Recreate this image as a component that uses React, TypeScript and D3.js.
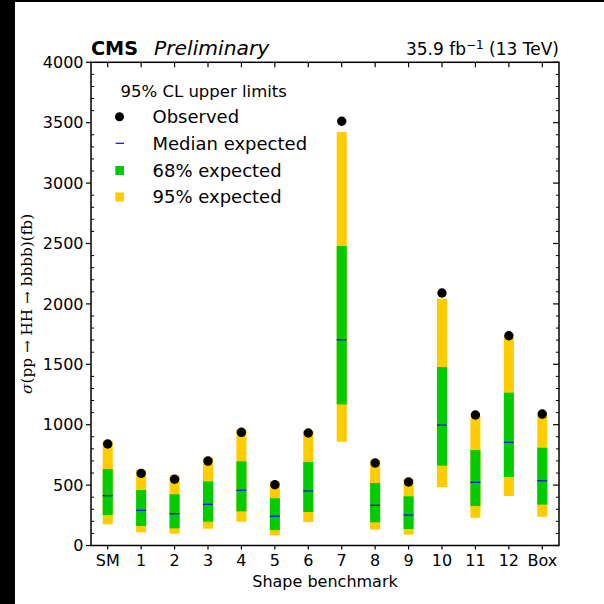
import React from "react";
import * as d3 from "d3";

const categories = ["SM", "1", "2", "3", "4", "5", "6", "7", "8", "9", "10", "11", "12", "Box"];
const observed = [840, 597, 548, 699, 937, 503, 931, 3512, 683, 526, 2090, 1080, 1736, 1088];
const expMedian = [412, 291, 263, 341, 457, 242, 451, 1703, 333, 252, 997, 523, 854, 536];
const exp68Low = [252, 161, 142, 197, 283, 128, 277, 1168, 192, 137, 661, 327, 567, 338];
const exp68High = [633, 459, 424, 531, 697, 391, 691, 2479, 517, 407, 1477, 790, 1265, 809];
const exp95Low = [175, 109, 98, 139, 197, 84, 194, 859, 131, 90, 482, 230, 410, 238];
const exp95High = [867, 625, 581, 727, 962, 534, 950, 3422, 708, 553, 2043, 1066, 1723, 1077];
const yMajorTicks = [0, 500, 1000, 1500, 2000, 2500, 3000, 3500, 4000];

const W = 604, H = 604;
const L = 91, R = 559, T = 62.3, B = 545.5;
const GREEN = "#00cc00", YELLOW = "#ffcc00", BLUE = "#0000ff";
const FONT = "'DejaVu Sans', sans-serif";

export default function App() {
  const x = d3.scaleLinear().domain([-0.5, 13.5]).range([L, R]);
  const y = d3.scaleLinear().domain([0, 4000]).range([B, T]);
  const bw = x(0.15) - x(0);
  const minor = d3.range(0, 4001, 100).filter((v) => v % 500 !== 0);

  return (
    <svg width={W} height={H} style={{ position: "absolute", left: 0, top: 0, background: "#fff" }} fontFamily={FONT}>
      <rect x={0} y={0} width={W} height={H} fill="#fff" />
      <rect x={0} y={0} width={15} height={H} fill="#000" />
      <rect x={0} y={0} width={W} height={2} fill="#000" />

      {/* bands */}
      {categories.map((c, i) => (
        <g key={c}>
          <rect x={x(i) - bw} width={2 * bw} y={y(exp95High[i])} height={y(exp95Low[i]) - y(exp95High[i])} fill={YELLOW} />
          <rect x={x(i) - bw} width={2 * bw} y={y(exp68High[i])} height={y(exp68Low[i]) - y(exp68High[i])} fill={GREEN} />
          <line x1={x(i) - bw} x2={x(i) + bw} y1={y(expMedian[i])} y2={y(expMedian[i])} stroke={BLUE} strokeWidth={1.2} />
          <circle cx={x(i)} cy={y(observed[i])} r={4.7} fill="#000" />
        </g>
      ))}

      {/* frame */}
      <rect x={L} y={T} width={R - L} height={B - T} fill="none" stroke="#000" strokeWidth={1.5} />

      {/* y ticks */}
      {yMajorTicks.map((v) => (
        <g key={"ym" + v}>
          <line x1={L - 5} x2={L} y1={y(v)} y2={y(v)} stroke="#000" strokeWidth={1.2} />
          <line x1={R - 6} x2={R} y1={y(v)} y2={y(v)} stroke="#000" strokeWidth={1.2} />
          <text x={83.5} y={y(v)} dy="0.36em" textAnchor="end" fontSize={16}>{v}</text>
        </g>
      ))}
      {minor.map((v) => (
        <g key={"yn" + v}>
          <line x1={L} x2={L + 3} y1={y(v)} y2={y(v)} stroke="#000" strokeWidth={1} />
          <line x1={R - 3} x2={R} y1={y(v)} y2={y(v)} stroke="#000" strokeWidth={1} />
        </g>
      ))}

      {/* x ticks */}
      {categories.map((c, i) => (
        <g key={"xt" + c}>
          <line x1={x(i)} x2={x(i)} y1={B} y2={B + 4} stroke="#000" strokeWidth={1.2} />
          <line x1={x(i)} x2={x(i)} y1={T} y2={T + 5} stroke="#000" strokeWidth={1.2} />
          <text x={x(i)} y={565.5} textAnchor="middle" fontSize={16}>{c}</text>
        </g>
      ))}

      {/* axis labels */}
      <text x={(L + R) / 2} y={587} textAnchor="middle" fontSize={16}>Shape benchmark</text>
      <text
        transform={`translate(32, ${(T + B) / 2}) rotate(-90)`}
        textAnchor="middle"
        fontSize={15}
        fontFamily="'DejaVu Serif', 'Liberation Serif', serif"
        textLength={180}
        lengthAdjust="spacingAndGlyphs"
      >
        <tspan fontStyle="italic">σ</tspan>(pp → HH → bbbb)(fb)
      </text>

      {/* header */}
      <text x={L} y={55} fontSize={19.2} fontWeight="bold">CMS</text>
      <text x={154} y={55} fontSize={20.3} fontStyle="italic">Preliminary</text>
      <text x={R} y={55} textAnchor="end" fontSize={17}>
        35.9 fb<tspan dy={-6.5} fontSize={12}>−1</tspan><tspan dy={6.5}> (13 TeV)</tspan>
      </text>

      {/* legend */}
      <text x={120.5} y={96.5} fontSize={16.5}>95% CL upper limits</text>
      <circle cx={119.5} cy={116.7} r={4.5} fill="#000" />
      <text x={152.5} y={123} fontSize={18}>Observed</text>
      <line x1={115.7} x2={124} y1={143.3} y2={143.3} stroke={BLUE} strokeWidth={1.2} />
      <text x={152.5} y={150} fontSize={18}>Median expected</text>
      <rect x={115.3} y={166} width={8.7} height={9} fill={GREEN} />
      <text x={152.5} y={176.5} fontSize={18}>68% expected</text>
      <rect x={115.3} y={192.5} width={8.7} height={9} fill={YELLOW} />
      <text x={152.5} y={203} fontSize={18}>95% expected</text>
    </svg>
  );
}
